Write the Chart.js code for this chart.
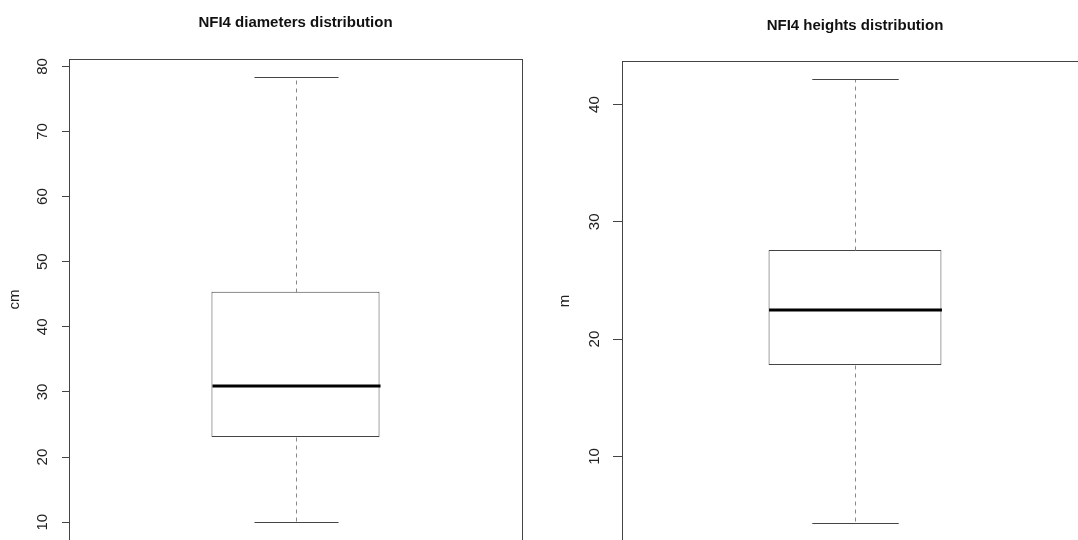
<!DOCTYPE html>
<html>
<head>
<meta charset="utf-8">
<script src="https://cdn.jsdelivr.net/npm/chart.js@4.4.1/dist/chart.umd.min.js"></script>
<style>
  html, body { margin: 0; padding: 0; background: #fff; overflow: hidden; width: 1078px; height: 540px; }
  .panel { position: absolute; top: 0; }
</style>
</head>
<body>
<div class="panel" style="left:0; width:540px; height:540px; overflow:hidden"><canvas id="diamChart" width="540" height="560"></canvas></div>
<div class="panel" style="left:540px; width:538px; height:540px; overflow:hidden"><canvas id="heightChart" width="640" height="560"></canvas></div>
<script>
// box statistics (diameters, heights)
const panelTitles = ["NFI4 diameters distribution", "NFI4 heights distribution"];
const unitLabels = ["cm", "m"];
const whiskerLow = [10.0, 4.3];
const lowerQuartile = [23.1, 17.8];
const medians = [30.9, 22.5];
const upperQuartile = [45.4, 27.6];
const whiskerHigh = [78.4, 42.2];

const diameterTicks = [10, 20, 30, 40, 50, 60, 70, 80];
const heightTicks = [10, 20, 30, 40];

const fontFamily = "'Liberation Sans', Arial, sans-serif";

// whiskers, caps, median and frame, R boxplot style
const boxExtras = {
  id: "boxExtras",
  afterDatasetsDraw(chart) {
    const i = chart.options.plugins.boxExtras.index;
    const ctx = chart.ctx;
    const y = chart.scales.y;
    const bar = chart.getDatasetMeta(0).data[0];
    const x = Math.round(bar.x) + 0.5;
    const half = bar.width / 2;
    const py = v => Math.round(y.getPixelForValue(v)) + 0.5;

    ctx.save();
    ctx.lineWidth = 1;
    // dashed whiskers
    ctx.strokeStyle = "#888";
    ctx.setLineDash([4, 4]);
    ctx.beginPath();
    ctx.moveTo(x, py(upperQuartile[i]));
    ctx.lineTo(x, py(whiskerHigh[i]));
    ctx.moveTo(x, py(lowerQuartile[i]));
    ctx.lineTo(x, py(whiskerLow[i]));
    ctx.stroke();
    // caps
    ctx.setLineDash([]);
    ctx.strokeStyle = "#444";
    ctx.beginPath();
    ctx.moveTo(x - half / 2, py(whiskerHigh[i]));
    ctx.lineTo(x + half / 2, py(whiskerHigh[i]));
    ctx.moveTo(x - half / 2, py(whiskerLow[i]));
    ctx.lineTo(x + half / 2, py(whiskerLow[i]));
    ctx.stroke();
    // median
    ctx.strokeStyle = "#000";
    ctx.lineWidth = 3;
    ctx.beginPath();
    const my = Math.round(y.getPixelForValue(medians[i]));
    ctx.moveTo(x - half, my);
    ctx.lineTo(x + half, my);
    ctx.stroke();
    // plot frame
    const a = chart.chartArea;
    ctx.lineWidth = 1;
    ctx.strokeStyle = "#444";
    ctx.strokeRect(Math.round(a.left) + 0.5, Math.round(a.top) + 0.5,
      Math.round(a.right - a.left), Math.round(a.bottom - a.top));
    ctx.restore();
  }
};

function makePanel(canvasId, i, tickValues, lay) {
  const lo = whiskerLow[i], hi = whiskerHigh[i];
  const ext = (hi - lo) * 0.04;
  new Chart(document.getElementById(canvasId), {
    type: "bar",
    data: {
      labels: [""],
      datasets: [{
        data: [[lowerQuartile[i], upperQuartile[i]]],
        backgroundColor: "#fff",
        borderColor: "#444",
        borderWidth: 1,
        borderSkipped: false,
        barPercentage: 0.371,
        categoryPercentage: 1
      }]
    },
    options: {
      responsive: false,
      animation: false,
      devicePixelRatio: 1,
      layout: { padding: { left: 0, top: 0, right: lay.right, bottom: 17 } },
      plugins: {
        legend: { display: false },
        tooltip: { enabled: false },
        boxExtras: { index: i },
        title: {
          display: true,
          text: panelTitles[i],
          fullSize: false,
          color: "#111",
          font: { family: fontFamily, size: 15, weight: "bold", lineHeight: 1.2 },
          padding: { top: lay.titleTop, bottom: lay.titleBottom }
        }
      },
      scales: {
        x: { display: false },
        y: {
          min: lo - ext,
          max: hi + ext,
          afterBuildTicks: s => { s.ticks = tickValues.map(v => ({ value: v })); },
          afterFit: s => { s.width = lay.axisWidth; },
          border: { display: true, color: "#888", width: 1 },
          grid: { drawOnChartArea: false, drawTicks: true, tickLength: lay.tickLength, tickColor: "#444" },
          ticks: {
            color: "#222",
            minRotation: 90,
            maxRotation: 90,
            crossAlign: "center",
            padding: lay.tickPadding,
            font: { family: fontFamily, size: 15 }
          },
          title: {
            display: true,
            text: unitLabels[i],
            color: "#222",
            font: { family: fontFamily, size: 15, lineHeight: 1.2 },
            padding: { top: lay.unitPad, bottom: 0 }
          }
        }
      }
    },
    plugins: [boxExtras]
  });
}

makePanel("diamChart", 0, diameterTicks, {
  right: 18, axisWidth: 69, tickLength: 7, tickPadding: 11, unitPad: 6, titleTop: 14, titleBottom: 27
});
// right panel's plot area runs past the picture's right edge
makePanel("heightChart", 1, heightTicks, {
  right: 92, axisWidth: 82, tickLength: 9, tickPadding: 10, unitPad: 16, titleTop: 17, titleBottom: 26
});
</script>
</body>
</html>
